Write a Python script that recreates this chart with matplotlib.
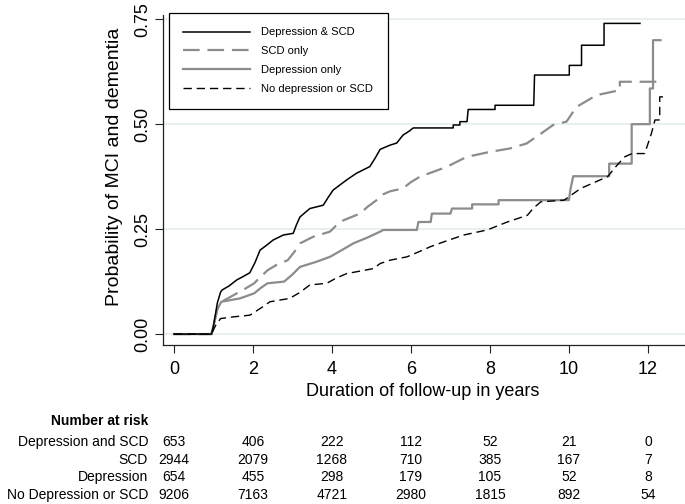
import matplotlib.pyplot as plt
import matplotlib.transforms as mtransforms

plt.rcParams['font.family'] = ['Liberation Sans', 'DejaVu Sans']

# Cumulative probability curves, vertices
t_dep_scd = [0, 0.95, 1.0, 1.1, 1.18, 1.22, 1.4, 1.59, 1.75, 1.92, 2.05, 2.18, 2.35, 2.51,
             2.77, 3.02, 3.1, 3.19, 3.44, 3.78, 3.9, 4.03, 4.2, 4.37, 4.62, 4.96, 5.1, 5.22, 5.47,
             5.64, 5.8, 5.95, 6.06, 7.07, 7.07, 7.24, 7.24, 7.42, 7.45, 8.13, 8.13, 9.11, 9.13,
             10.01, 10.01, 10.32, 10.32, 10.89, 10.89, 11.8]
p_dep_scd = [0, 0, 0.02, 0.075, 0.1, 0.105, 0.115, 0.129, 0.137, 0.146, 0.17, 0.2, 0.212, 0.224,
             0.236, 0.24, 0.26, 0.279, 0.299, 0.307, 0.325, 0.343, 0.355, 0.367, 0.383, 0.399, 0.42, 0.44, 0.45,
             0.455, 0.474, 0.483, 0.491, 0.491, 0.498, 0.498, 0.506, 0.506, 0.535, 0.535, 0.545, 0.545, 0.617,
             0.617, 0.64, 0.64, 0.688, 0.688, 0.74, 0.74]

t_scd = [0, 0.95, 1.0, 1.1, 1.2, 1.4, 1.59, 1.8, 2.03, 2.2, 2.37, 2.6, 2.88, 3.05, 3.19, 3.53, 3.95,
         4.1, 4.29, 4.71, 4.9, 5.13, 5.3, 5.47, 5.8, 6.0, 6.23, 6.9, 7.41, 8.0, 8.5, 8.93, 9.3, 9.6,
         9.94, 10.19, 10.7, 11.29, 11.29, 12.3]
p_scd = [0, 0, 0.02, 0.06, 0.077, 0.087, 0.097, 0.108, 0.121, 0.137, 0.152, 0.165, 0.176, 0.196, 0.216, 0.232, 0.244,
         0.258, 0.271, 0.287, 0.303, 0.319, 0.333, 0.34, 0.347, 0.362, 0.375, 0.398, 0.422, 0.434, 0.442, 0.454, 0.478, 0.498,
         0.506, 0.541, 0.569, 0.581, 0.601, 0.601]

t_dep = [0, 0.95, 1.0, 1.1, 1.2, 1.67, 2.03, 2.2, 2.37, 2.79, 3.0, 3.19, 3.6, 3.95, 4.25, 4.54, 4.9,
         5.22, 5.3, 6.15, 6.19, 6.5, 6.53, 7.0, 7.04, 7.55, 7.55, 8.22, 8.22, 10.0, 10.04, 10.11,
         11.02, 11.02, 11.59, 11.59, 12.05, 12.05, 12.13, 12.13, 12.32]
p_dep = [0, 0, 0.02, 0.06, 0.077, 0.085, 0.097, 0.11, 0.121, 0.125, 0.142, 0.16, 0.172, 0.184, 0.2, 0.216, 0.23,
         0.244, 0.248, 0.248, 0.267, 0.267, 0.287, 0.287, 0.299, 0.299, 0.309, 0.309, 0.319, 0.319, 0.345, 0.376,
         0.376, 0.406, 0.406, 0.5, 0.5, 0.585, 0.585, 0.70, 0.70]

t_none = [0, 0.95, 1.05, 1.18, 1.5, 1.92, 2.2, 2.43, 2.93, 3.2, 3.44, 3.87, 4.1, 4.37, 5.05, 5.22, 5.47,
          5.9, 6.2, 6.49, 6.9, 7.34, 7.93, 8.44, 8.95, 9.1, 9.29, 9.88, 10.3, 10.98, 11.2, 11.41, 11.6,
          11.92, 12.09, 12.18, 12.3, 12.3, 12.47]
p_none = [0, 0, 0.02, 0.037, 0.041, 0.045, 0.062, 0.077, 0.085, 0.1, 0.117, 0.121, 0.133, 0.144, 0.156, 0.168, 0.176,
          0.184, 0.196, 0.208, 0.222, 0.236, 0.248, 0.267, 0.283, 0.3, 0.315, 0.319, 0.347, 0.375, 0.4, 0.422, 0.43,
          0.43, 0.478, 0.51, 0.51, 0.565, 0.565]

legend_labels = ['Depression & SCD', 'SCD only', 'Depression only', 'No depression or SCD']

# number at risk table
risk_times = [0, 2, 4, 6, 8, 10, 12]
risk_groups = ['Depression and SCD', 'SCD', 'Depression', 'No Depression or SCD']
risk_counts = [
    [653, 406, 222, 112, 52, 21, 0],
    [2944, 2079, 1268, 710, 385, 167, 7],
    [654, 455, 298, 179, 105, 52, 8],
    [9206, 7163, 4721, 2980, 1815, 892, 54],
]

gray = '#8c8c8c'
grid_col = '#e8eff1'

fig = plt.figure(figsize=(6.85, 5.04), dpi=100)
ax = fig.add_axes([163 / 685, 1 - 345 / 504, 522 / 685, 330 / 504])

ax.plot(t_dep_scd, p_dep_scd, color='black', lw=1.1, label=legend_labels[0], zorder=4)
ax.plot(t_scd, p_scd, color=gray, lw=1.6, dashes=(7.5, 3.5), label=legend_labels[1], zorder=3)
ax.plot(t_dep, p_dep, color=gray, lw=1.6, label=legend_labels[2], zorder=3)
ax.plot(t_none, p_none, color='black', lw=1.0, dashes=(6, 3.5), label=legend_labels[3], zorder=4)

ax.set_xlim(-0.278, 12.94)
ax.set_ylim(-0.026, 0.76)
ax.set_xticks(risk_times)
ax.set_yticks([0, 0.25, 0.5, 0.75])
ax.set_yticklabels(['0.00', '0.25', '0.50', '0.75'])
ax.yaxis.grid(True, color=grid_col, lw=1.4)
ax.set_axisbelow(True)

for side in ['top', 'right']:
    ax.spines[side].set_visible(False)
for side in ['left', 'bottom']:
    ax.spines[side].set_color('#222222')
    ax.spines[side].set_linewidth(0.9)

ax.tick_params(axis='both', length=5.8, width=0.8, color='#222222', labelsize=13)
ax.tick_params(axis='x', pad=6)
ax.tick_params(axis='y', pad=3)
for lab in ax.get_yticklabels():
    lab.set_rotation(90)
    lab.set_va('center')

leg = ax.legend(loc='upper left', bbox_to_anchor=(169 / 685, 1 - 13 / 504),
                bbox_transform=fig.transFigure, borderaxespad=0, fontsize=8,
                handlelength=6.0, handletextpad=1.0, labelspacing=0.8,
                borderpad=1.3, fancybox=False, framealpha=1)
leg.get_frame().set_edgecolor('black')
leg.get_frame().set_linewidth(0.9)

fig.text(115 / 685, 1 - 167 / 504, 'Probability of MCI and dementia', rotation=90,
         ha='center', va='center', fontsize=14)
fig.text(423 / 685, 1 - 392 / 504, 'Duration of follow-up in years',
         ha='center', va='center', fontsize=13)

# risk table below the axes, columns follow the x axis
trans = mtransforms.blended_transform_factory(ax.transData, fig.transFigure)
fig.text(148 / 685, 1 - 421 / 504, 'Number at risk', ha='right', va='center',
         fontsize=10, fontweight='bold')
row_y = [442, 460, 477, 495]
for name, counts, yy in zip(risk_groups, risk_counts, row_y):
    fig.text(148 / 685, 1 - yy / 504, name, ha='right', va='center', fontsize=10)
    for tt, n in zip(risk_times, counts):
        ax.text(tt, 1 - yy / 504, str(n), transform=trans, ha='center', va='center',
                fontsize=10, clip_on=False)

fig.savefig('out.png', dpi=100)
